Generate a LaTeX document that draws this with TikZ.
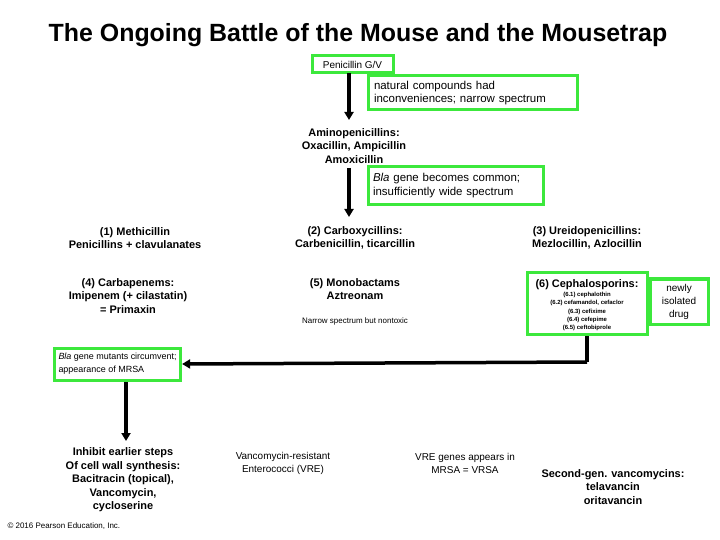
\documentclass[tikz,border=0pt]{standalone}
\usepackage{fontspec}
\setmainfont{Liberation Sans}
\usetikzlibrary{arrows.meta}
\definecolor{gbox}{HTML}{3CE83C}
\begin{document}
\begin{tikzpicture}[x=1bp,y=-1bp,
  gb/.style={draw=gbox,line width=3bp,inner sep=0pt},
  tb/.style={font=\fontsize{11}{13.5}\selectfont\bfseries,align=center,inner sep=1bp},
  tn/.style={font=\fontsize{10}{13}\selectfont,align=center,inner sep=1bp},
  arr/.style={line width=3.5bp,-{Triangle[length=8bp,width=9bp]}}]
\useasboundingbox (0,0) rectangle (720,540);
\node[font=\fontsize{25}{28}\selectfont\bfseries] (title) at (358,35) {The Ongoing Battle of the Mouse and the Mousetrap};
\node[gb,minimum width=81bp,minimum height=17bp,font=\fontsize{10}{12}\selectfont] (pen) at (352.5,64.5) {Penicillin G/V};
\node[gb,minimum width=209bp,minimum height=34bp,align=left,text width=197bp,font=\fontsize{11.5}{13.5}\selectfont] (nat) at (472.5,93) {natural compounds had\\inconveniences; narrow spectrum};
\node[tb] (amino) at (354,146) {Aminopenicillins:\\Oxacillin, Ampicillin\\Amoxicillin};
\node[gb,minimum width=175bp,minimum height=38bp,align=left,text width=165bp,font=\fontsize{11.5}{14}\selectfont] (bla) at (455.5,186) {\textit{Bla} gene becomes common;\\insufficiently wide spectrum};
\coordinate (a1) at (349,73);
\coordinate (a2) at (349,120);
\coordinate (a3) at (349,168);
\coordinate (a4) at (349,217);
\draw[arr] (a1) -- (a2);
\draw[arr] (a3) -- (a4);
\node[tb] (m1) at (135,238) {(1) Methicillin\\Penicillins + clavulanates};
\node[tb] (m2) at (355,238) {(2) Carboxycillins:\\Carbenicillin, ticarcillin};
\node[tb] (m3) at (587,238) {(3) Ureidopenicillins:\\Mezlocillin, Azlocillin};
\node[tb] (m4) at (128,296) {(4) Carbapenems:\\Imipenem (+ cilastatin)\\= Primaxin};
\node[tb] (m5) at (355,289) {(5) Monobactams\\Aztreonam};
\node[font=\fontsize{8}{10}\selectfont] (nt) at (355,321) {Narrow spectrum but nontoxic};
\node[gb,minimum width=120bp,minimum height=61bp] (m6) at (587,303.5) {};
\node[font=\fontsize{11}{13}\selectfont\bfseries,inner sep=0pt] (m6t) at (587,285) {(6) Cephalosporins:};
\node[font=\fontsize{6}{8.3}\selectfont\bfseries,align=center,inner sep=0pt,anchor=north] (m6l) at (587,292) {(6.1) cephalothin\\(6.2) cefamandol, cefaclor\\(6.3) cefixime\\(6.4) cefepime\\(6.5) ceftobiprole};
\node[gb,minimum width=58bp,minimum height=45bp,tn] (new) at (679,301.5) {newly\\isolated\\drug};
\node[gb,minimum width=122bp,minimum height=32bp,align=left,inner xsep=4bp,anchor=west,font=\fontsize{9}{13}\selectfont] (mut) at (53,364) {\textit{Bla} gene mutants circumvent;\\appearance of MRSA};
\coordinate (c0) at (587,336);
\coordinate (c1) at (587,362);
\draw[line width=3.5bp] (c0) -- (c1);
\draw[arr] (c1) -- (mut.east);
\coordinate (d0) at (126,382);
\coordinate (d1) at (126,441);
\draw[arr] (d0) -- (d1);
\node[tb] (inh) at (123,480) {Inhibit earlier steps\\Of cell wall synthesis:\\Bacitracin (topical),\\Vancomycin,\\cycloserine};
\node[tn] (vre) at (283,463) {Vancomycin-resistant\\Enterococci (VRE)};
\node[tn] (vrsa) at (465,463) {VRE genes appears in\\MRSA = VRSA};
\node[tb] (sec) at (613,487) {Second-gen. vancomycins:\\telavancin\\oritavancin};
\node[font=\fontsize{8}{9}\selectfont,anchor=west] (copy) at (4,526) {© 2016 Pearson Education, Inc.};
\end{tikzpicture}
\end{document}
